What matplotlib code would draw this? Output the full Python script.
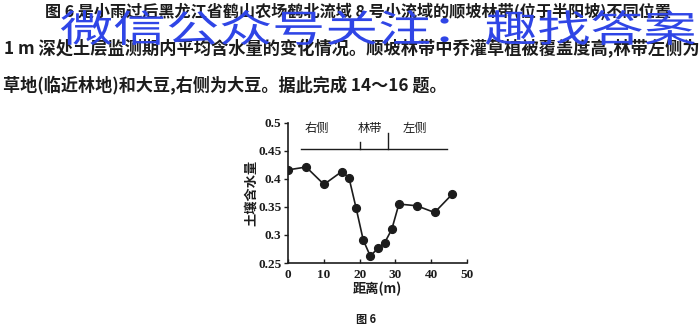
import matplotlib
matplotlib.use("Agg")
import matplotlib.pyplot as plt
from matplotlib.textpath import TextPath
from matplotlib.patches import PathPatch
from matplotlib.font_manager import FontProperties
from matplotlib.transforms import Affine2D, IdentityTransform

plt.rcParams['font.family'] = ['Noto Sans CJK SC', 'DejaVu Sans']

# 数据
distance = [0, 5, 10, 15, 17, 19, 21, 23, 25, 27, 29, 31, 36, 41, 46]
moisture = [0.416, 0.421, 0.390, 0.413, 0.402, 0.348, 0.291, 0.262, 0.276,
            0.286, 0.310, 0.355, 0.352, 0.340, 0.373]
x_ticks = [0, 10, 20, 30, 40, 50]
y_ticks = [0.25, 0.3, 0.35, 0.4, 0.45, 0.5]
y_tick_labels = ["0.25", "0.3", "0.35", "0.4", "0.45", "0.5"]

# 顶部分区标注
zone_names = ["右侧", "林带", "左侧"]
zone_label_x = [8, 23, 35.5]
zone_line_x = [3.6, 44.4]
zone_mark_x = [20, 28]
zone_mark_top = [0.466, 0.482]
zone_line_y = 0.4535

lines = [
    "图 6 是小雨过后黑龙江省鹤山农场鹤北流域 8 号小流域的顺坡林带(位于半阳坡)不同位置",
    "1 m 深处土层监测期内平均含水量的变化情况。顺坡林带中乔灌草植被覆盖度高,林带左侧为",
    "草地(临近林地)和大豆,右侧为大豆。据此完成 14～16 题。",
]
line_pos = [(45, 11), (4, 49), (3, 86)]
line_size = [11.6, 12.4, 12.3]
watermark = "微信公众号关注：趣找答案"

ink = "#1c1c1c"
fig = plt.figure(figsize=(7, 3.27), dpi=100)
fig.patch.set_facecolor("white")

# 正文
for txt, (px, py), fs in zip(lines, line_pos, line_size):
    fig.text(px / 700, 1 - py / 327, txt, fontsize=fs, color=ink,
             va="center", ha="left", fontweight="bold")

# 水印 (横向拉宽), 像素范围: x 60-695, y 10-45 (自顶部)
fp = FontProperties(family="Noto Sans CJK SC", weight="normal")
tp = TextPath((0, 0), watermark, size=1, prop=fp)
vx = tp.vertices[:, 0]
vy = tp.vertices[:, 1]
sx = (695 - 60) / (vx.max() - vx.min())
sy = (45 - 10) / (vy.max() - vy.min())
x0 = 60 - vx.min() * sx
y0 = (327 - 45) - vy.min() * sy
wm_path = Affine2D().scale(sx, sy).translate(x0, y0).transform_path(tp)
fig.patches.append(PathPatch(wm_path, facecolor="#2f45e6", edgecolor="none",
                             transform=IdentityTransform(), zorder=10,
                             figure=fig))

# 图表
ax = fig.add_axes([288.3 / 700, 1 - 263 / 327, 178.4 / 700, 140.3 / 327])
ax.set_facecolor("none")
ax.plot(distance, moisture, color=ink, lw=1.2, marker="o", ms=5.6,
        markerfacecolor=ink, markeredgecolor=ink)

ax.plot(zone_line_x, [zone_line_y, zone_line_y], color=ink, lw=1.0)
for mx, mt in zip(zone_mark_x, zone_mark_top):
    ax.plot([mx, mx], [zone_line_y, mt], color=ink, lw=1.0)
for name, lx in zip(zone_names, zone_label_x):
    ax.text(lx, 0.489, name, ha="center", va="center", fontsize=8.8, color=ink)

ax.set_xlim(0, 50)
ax.set_ylim(0.25, 0.5)
ax.set_xticks(x_ticks)
ax.set_yticks(y_ticks)
ax.set_yticklabels(y_tick_labels)
for lab in ax.get_xticklabels() + ax.get_yticklabels():
    lab.set_family("Liberation Serif")
    lab.set_fontweight("bold")
    lab.set_fontsize(9.5)
    lab.set_color(ink)
ax.tick_params(axis="x", direction="in", length=3, width=1, pad=4, colors=ink)
ax.tick_params(axis="y", direction="out", length=3, width=1, pad=2, colors=ink)
ax.spines["top"].set_visible(False)
ax.spines["right"].set_visible(False)
for s in ("left", "bottom"):
    ax.spines[s].set_linewidth(1.2)
    ax.spines[s].set_color(ink)
ax.set_xlabel("距离(m)", fontsize=9.5, fontweight="bold", color=ink, labelpad=1)
ax.set_ylabel("土壤含水量", fontsize=9.5, fontweight="bold", color=ink, labelpad=0)

fig.text(366 / 700, 1 - 320 / 327, "图 6", fontsize=8, color=ink, ha="center",
         va="center", fontweight="bold")

fig.savefig("out.png", dpi=100, facecolor=fig.get_facecolor())
